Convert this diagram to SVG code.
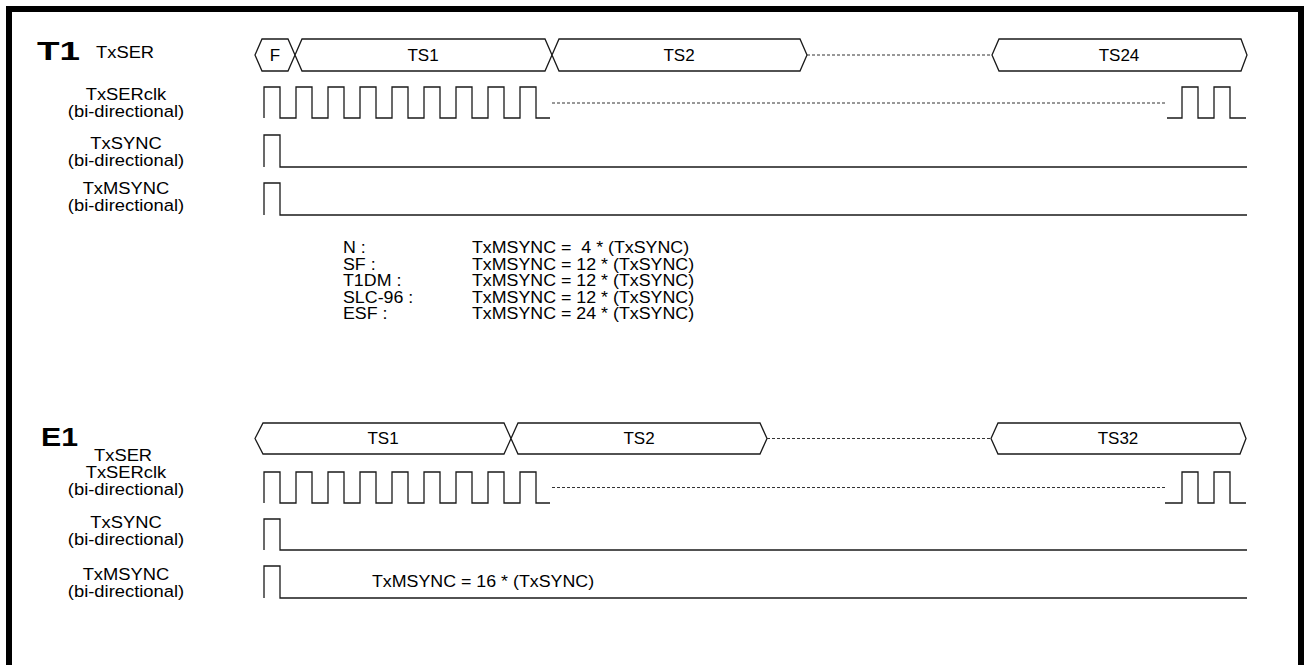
<svg xmlns="http://www.w3.org/2000/svg" width="1304" height="665" viewBox="0 0 1304 665">
<style>
text{font-family:"Liberation Sans",Arial,sans-serif;fill:#000}
.lbl{font-size:17px;text-anchor:middle}
.big{font-size:26px;font-weight:bold}
.ts{font-size:17px;text-anchor:middle}
.tb{font-size:17px}
.tt{font-size:16.5px}
.w{fill:none;stroke:#1a1a1a;stroke-width:1.3}
.bus{fill:#fff;stroke:#1a1a1a;stroke-width:1.3}
.d{fill:none;stroke:#333;stroke-width:1;stroke-dasharray:3 2}
</style>
<rect x="0" y="0" width="1304" height="665" fill="#fff"/>
<rect x="9" y="9" width="1292" height="700" fill="none" stroke="#000" stroke-width="6"/>

<g id="t1-labels">
<text class="big" x="37" y="60" textLength="43" lengthAdjust="spacingAndGlyphs">T1</text>
<text class="tb" transform="matrix(1.08,0,0,1,96,58)">TxSER</text>
<text class="lbl" transform="matrix(1.08,0,0,1,126,100)">TxSERclk</text>
<text class="lbl" transform="matrix(1.08,0,0,1,126,117)">(bi-directional)</text>
<text class="lbl" transform="matrix(1.08,0,0,1,126,149)">TxSYNC</text>
<text class="lbl" transform="matrix(1.08,0,0,1,126,166)">(bi-directional)</text>
<text class="lbl" transform="matrix(1.08,0,0,1,126,194)">TxMSYNC</text>
<text class="lbl" transform="matrix(1.08,0,0,1,126,211)">(bi-directional)</text>
</g>

<g id="t1-txser">
<polygon class="bus" points="255,55 262,39 288,39 295,55 288,71 262,71"/>
<polygon class="bus" points="295,55 302,39 545,39 552,55 545,71 302,71"/>
<polygon class="bus" points="552,55 559,39 800,39 807,55 800,71 559,71"/>
<line class="d" x1="807" y1="55" x2="992" y2="55"/>
<polygon class="bus" points="992,55 999,39 1241,39 1247,55 1241,71 999,71"/>
<text class="ts" x="275" y="61">F</text>
<text class="ts" x="423" y="61">TS1</text>
<text class="ts" x="679" y="61">TS2</text>
<text class="ts" x="1119" y="61">TS24</text>
</g>

<g id="t1-clk">
<path class="w" d="M264,118 V87 H280 V118 H296 V87 H312 V118 H328 V87 H344 V118 H360 V87 H376 V118 H392 V87 H408 V118 H424 V87 H440 V118 H456 V87 H472 V118 H488 V87 H504 V118 H520 V87 H536 V118 H550"/>
<line class="d" x1="552" y1="103" x2="1167" y2="103"/>
<path class="w" d="M1167,118 H1182 V87 H1198 V118 H1214 V87 H1230 V118 H1246"/>
</g>

<g id="t1-sync">
<path class="w" d="M264,167 V135 H280 V167 H1247"/>
</g>

<g id="t1-msync">
<path class="w" d="M264,215 V183 H280 V215 H1247"/>
</g>

<g id="t1-table">
<text class="tt" transform="matrix(1.08,0,0,1,343,253)">N :</text>
<text class="tt" transform="matrix(1.08,0,0,1,343,269.5)">SF :</text>
<text class="tt" transform="matrix(1.08,0,0,1,343,286)">T1DM :</text>
<text class="tt" transform="matrix(1.08,0,0,1,343,302.5)">SLC-96 :</text>
<text class="tt" transform="matrix(1.08,0,0,1,343,319)">ESF :</text>
<text class="tt" transform="matrix(1.08,0,0,1,472,253)" xml:space="preserve">TxMSYNC =  4 * (TxSYNC)</text>
<text class="tt" transform="matrix(1.08,0,0,1,472,269.5)">TxMSYNC = 12 * (TxSYNC)</text>
<text class="tt" transform="matrix(1.08,0,0,1,472,286)">TxMSYNC = 12 * (TxSYNC)</text>
<text class="tt" transform="matrix(1.08,0,0,1,472,302.5)">TxMSYNC = 12 * (TxSYNC)</text>
<text class="tt" transform="matrix(1.08,0,0,1,472,319)">TxMSYNC = 24 * (TxSYNC)</text>
</g>

<g id="e1-labels">
<text class="big" x="41" y="446" textLength="37" lengthAdjust="spacingAndGlyphs">E1</text>
<text class="tb" transform="matrix(1.08,0,0,1,94,461)">TxSER</text>
<text class="lbl" transform="matrix(1.08,0,0,1,126,478)">TxSERclk</text>
<text class="lbl" transform="matrix(1.08,0,0,1,126,495)">(bi-directional)</text>
<text class="lbl" transform="matrix(1.08,0,0,1,126,528)">TxSYNC</text>
<text class="lbl" transform="matrix(1.08,0,0,1,126,545)">(bi-directional)</text>
<text class="lbl" transform="matrix(1.08,0,0,1,126,580)">TxMSYNC</text>
<text class="lbl" transform="matrix(1.08,0,0,1,126,597)">(bi-directional)</text>
</g>

<g id="e1-txser">
<polygon class="bus" points="255,438.5 263,423 504,423 511,438.5 504,454 263,454"/>
<polygon class="bus" points="511,438.5 518,423 760,423 767,438.5 760,454 518,454"/>
<line class="d" x1="767" y1="438.5" x2="991" y2="438.5"/>
<polygon class="bus" points="991,438.5 998,423 1240,423 1246,438.5 1240,454 998,454"/>
<text class="ts" x="383" y="444">TS1</text>
<text class="ts" x="639" y="444">TS2</text>
<text class="ts" x="1118" y="444">TS32</text>
</g>

<g id="e1-clk">
<path class="w" d="M264,503 V472 H280 V503 H296 V472 H312 V503 H328 V472 H344 V503 H360 V472 H376 V503 H392 V472 H408 V503 H424 V472 H440 V503 H456 V472 H472 V503 H488 V472 H504 V503 H520 V472 H536 V503 H550"/>
<line class="d" x1="552" y1="487.5" x2="1165" y2="487.5"/>
<path class="w" d="M1165,503 H1182 V472 H1198 V503 H1214 V472 H1230 V503 H1246"/>
</g>

<g id="e1-sync">
<path class="w" d="M264,550 V519 H280 V550 H1247"/>
</g>

<g id="e1-msync">
<path class="w" d="M264,598 V566 H280 V598 H1247"/>
<text class="tt" transform="matrix(1.08,0,0,1,372,587)">TxMSYNC = 16 * (TxSYNC)</text>
</g>
</svg>
